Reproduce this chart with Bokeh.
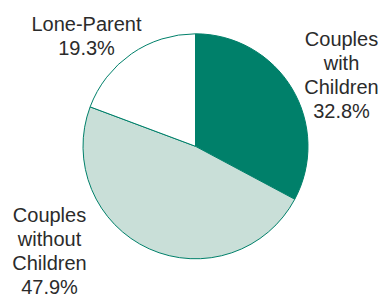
import math
from bokeh.plotting import figure
from bokeh.models import Range1d, ColumnDataSource
from bokeh.core.properties import value
from bokeh.embed import file_html
from bokeh.resources import INLINE

# ---- data ----
categories = ["Couples with Children", "Couples without Children", "Lone-Parent"]
label_lines = [["Couples", "with", "Children"], ["Couples", "without", "Children"], ["Lone-Parent"]]
shares = [32.8, 47.9, 19.3]
colors = ["#00806a", "#c9dfd8", "#ffffff"]

# ---- layout (pixel-like data space, y up) ----
W, H = 387, 295
cx, cy, r = 195.0, 149.2, 112.5
# label anchors: (center x, baseline y of first line)
label_anchor = [(341, 257), (49, 81), (86, 272)]
line_step = 24.0

p = figure(width=W, height=H, output_backend="svg", toolbar_location=None,
           x_range=Range1d(0, W), y_range=Range1d(0, H), min_border=0,
           outline_line_color=None)
p.axis.visible = False
p.grid.visible = False
p.background_fill_color = "white"
p.border_fill_color = "white"

total = sum(shares)
starts, ends = [], []
a = math.pi / 2
for s in shares:
    starts.append(a)
    a2 = a - 2 * math.pi * s / total
    ends.append(a2)
    a = a2

src = ColumnDataSource(dict(start=starts, end=ends, color=colors, cat=categories))
p.wedge(x=cx, y=cy, radius=r, start_angle="start", end_angle="end",
        direction="clock", fill_color="color", line_color="#00806a",
        line_width=1, source=src)

xs, ys, texts = [], [], []
for lines, s, (ax, ay) in zip(label_lines, shares, label_anchor):
    all_lines = lines + [f"{s:.1f}%"]
    for i, t in enumerate(all_lines):
        xs.append(ax)
        ys.append(ay - i * line_step)
        texts.append(t)

p.text(x=xs, y=ys, text=texts, text_align="center", text_baseline="alphabetic",
       text_font=value("Liberation Sans"), text_font_size="20px",
       text_color="#2b2b2b")

open("out.html", "w").write(file_html(p, INLINE))
